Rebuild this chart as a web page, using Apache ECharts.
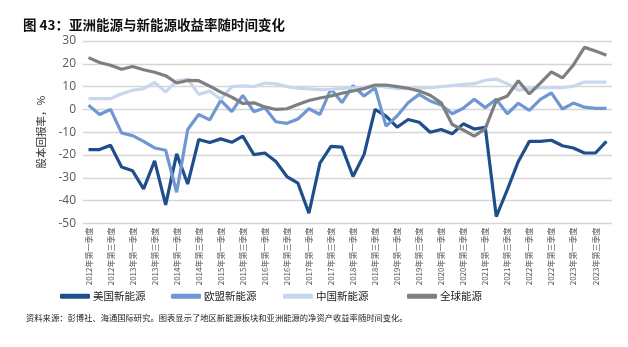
<!DOCTYPE html>
<html><head><meta charset="utf-8">
<script src="https://cdn.jsdelivr.net/npm/echarts@6/dist/echarts.min.js"></script>
<style>html,body{margin:0;padding:0;background:#fff}#c{width:628px;height:347px}</style>
</head><body><div id="c"></div>
<script>
const years = [2012,2013,2014,2015,2016,2017,2018,2019,2020,2021,2022,2023];
const quarters = ['一','二','三','四'];
const categories = [];
years.forEach(y => quarters.forEach(q => categories.push(y + '年第' + q + '季度')));

const usNew = [-17.6,-17.6,-15.7,-25.2,-26.9,-34.8,-22.5,-41.8,-19.5,-32.7,-13.2,-14.5,
  -12.9,-14.4,-11.7,-19.8,-19.1,-22.8,-29.4,-32.3,-45.5,-23.5,-16.2,-16.5,
  -29.4,-19.8,0,-2.9,-7.8,-4.4,-5.6,-10,-8.8,-10.7,-6.3,-8.6,
  -7.8,-47,-35.2,-22.8,-14,-14,-13.5,-15.9,-16.9,-19.1,-19.1,-14];
const euNew = [1.9,-2.2,0,-10.3,-11.5,-14,-16.9,-17.9,-36.3,-8.8,-2.2,-4.6,
  4,-1,6.2,-1,0.7,-5.4,-6.1,-4.2,0.3,-2.2,9,3,
  10.4,5.9,9.5,-7.3,-2.9,2.9,6.6,3.7,2,-1.9,0.5,4.5,
  0.8,4.5,-1.9,2.7,-0.4,4.4,7.3,0.2,2.8,1,0.5,0.5];
const cnNew = [4.7,4.7,4.7,6.9,8.4,9.1,11.8,7.7,12.5,13.2,6.6,8.1,
  4.5,10,10.3,10,11.6,11.2,10,9.3,9,8.7,8.8,9.2,
  9.5,9.8,10.5,9.8,9.1,9.1,9.3,9.5,10,10.5,11,11.3,
  12.8,13.3,11.3,8.5,9,9.5,9.6,9.5,10.2,12,12,12];
const globalEnergy = [22.7,20.6,19.4,17.6,18.8,17.4,16.3,14.8,11.6,12.7,12.6,10.2,
  7.6,5.4,2.6,2.9,1.1,0,0.3,2.2,3.9,5,5.9,7.1,
  8.1,9.1,10.7,10.7,10,9.3,8.1,6.2,2.9,-6.6,-9,-11.7,
  -8.4,3.9,5.9,12.6,6.8,11.5,16.5,13.8,19.5,27.2,25.6,23.8];

const seriesNames = ['美国新能源','欧盟新能源','中国新能源','全球能源'];
const seriesData = [usNew, euNew, cnNew, globalEnergy];
const colors = ['#1f4f8b','#7097d2','#c6d7ee','#7f7f7f'];
const legendLeft = [55, 166, 278, 402];

const cjk = '"Noto Sans CJK SC", sans-serif';
const chart = echarts.init(document.getElementById('c'), null, {renderer:'canvas'});
chart.setOption({
  animation: false,
  backgroundColor: '#fff',
  title: {
    text: '图 43：亚洲能源与新能源收益率随时间变化',
    left: 18, top: 13,
    textStyle: {fontFamily: cjk, fontSize: 13.5, fontWeight: 'bold', color: '#111'}
  },
  legend: seriesNames.map((n, i) => ({
    data: [n], left: legendLeft[i], top: 286,
    itemWidth: 30, itemHeight: 5, itemGap: 3,
    icon: 'roundRect',
    textStyle: {fontFamily: cjk, fontSize: 10.5, color: '#222', padding: [0,0,0,-2]}
  })),
  graphic: [{
    type: 'text', left: 26, top: 314,
    style: {text: '资料来源：彭博社、海通国际研究。图表显示了地区新能源板块和亚洲能源的净资产收益率随时间变化。',
      font: '8.3px ' + cjk, fill: '#222'}
  }],
  grid: {left: 83, right: 16, top: 41, bottom: 123.5, containLabel: false},
  xAxis: {
    type: 'category', data: categories, boundaryGap: true,
    axisLine: {show: false}, axisTick: {show: false},
    axisLabel: {interval: 1, rotate: 90, margin: 4, fontSize: 8, color: '#595959', fontFamily: cjk}
  },
  yAxis: {
    type: 'value', min: -50, max: 30, interval: 10,
    name: '股本回报率，%', nameLocation: 'middle', nameGap: 37, nameRotate: 90,
    nameTextStyle: {fontFamily: cjk, fontSize: 10.5, color: '#333'},
    axisLine: {show: false}, axisTick: {show: false},
    axisLabel: {fontSize: 12, color: '#595959', margin: 7, fontFamily: '"Open Sans", sans-serif'},
    splitLine: {lineStyle: {color: '#d6d6d6', width: 1.3}}
  },
  series: seriesNames.map((n, i) => ({
    name: n, type: 'line', data: seriesData[i], symbol: 'none',
    lineStyle: {width: 3.2, color: colors[i]}, itemStyle: {color: colors[i]},
    z: 2 + i
  }))
});
</script></body></html>
